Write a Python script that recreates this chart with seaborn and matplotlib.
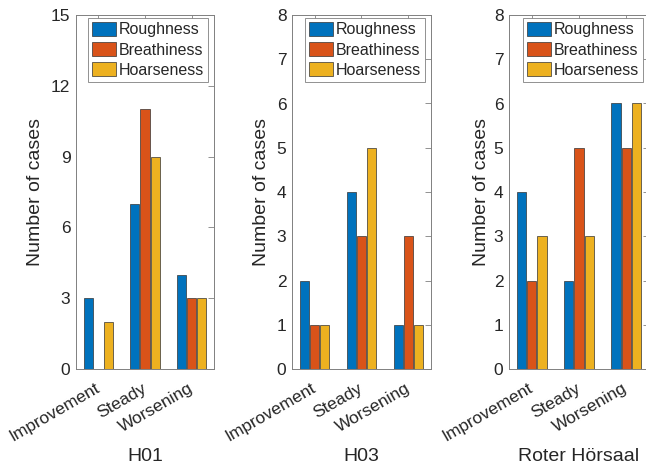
import numpy as np
import pandas as pd
import matplotlib
matplotlib.use('Agg')
import matplotlib.pyplot as plt
import matplotlib.transforms as mtransforms
import seaborn as sns

# data
phases = ['Improvement', 'Steady', 'Worsening']
measures = ['Roughness', 'Breathiness', 'Hoarseness']
rooms = ['H01', 'H03', 'Roter Hörsaal']

h01 = [[3, 0, 2], [7, 11, 9], [4, 3, 3]]
h03 = [[2, 1, 1], [4, 3, 5], [1, 3, 1]]
roter = [[4, 2, 3], [2, 5, 3], [6, 5, 6]]

ymax = [15, 8, 8]
ystep = [3, 1, 1]
colors = ['#0072BD', '#D95319', '#EDB120']

sns.set_style('white')
plt.rcParams['font.family'] = ['Liberation Sans', 'DejaVu Sans']
axcol = '#808080'
txtcol = '#262626'

fig = plt.figure(figsize=(6.46, 4.69), dpi=100)
W, H = 646, 469
# axes boxes in pixels: left, right
boxes = [(76, 214), (292, 431), (509, 649)]
top, bottom = 15, 369
ylab_x = [36, 262, 481]

for i, vals in enumerate([h01, h03, roter]):
    rows = []
    for p, phase in enumerate(phases):
        for m, meas in enumerate(measures):
            rows.append({'phase': phase, 'measure': meas, 'cases': vals[p][m]})
    df = pd.DataFrame(rows)

    l, r = boxes[i]
    ax = fig.add_axes([l / W, (H - bottom) / H, (r - l) / W, (bottom - top) / H])
    sns.barplot(data=df, x='phase', y='cases', hue='measure', order=phases,
                hue_order=measures, palette=colors, saturation=1, width=0.65,
                gap=0.1, edgecolor='#333333', linewidth=0.5, ax=ax)

    ax.set_xlim(-0.48, 2.48)
    ax.set_ylim(0, ymax[i])
    ax.set_yticks(np.arange(0, ymax[i] + 1, ystep[i]))
    ax.set_xticks(range(3))
    ax.set_xticklabels(phases, rotation=30, ha='right', va='center',
                       rotation_mode='anchor')
    shift = mtransforms.ScaledTranslation(3 / 100, 0, fig.dpi_scale_trans)
    for lab in ax.get_xticklabels():
        lab.set_transform(lab.get_transform() + shift)

    for s in ax.spines.values():
        s.set_visible(True)
        s.set_color(axcol)
        s.set_linewidth(0.7)
    ax.tick_params(direction='in', top=True, right=True, length=4, width=0.6,
                   color=axcol, labelcolor=txtcol, labelsize=12.5)
    ax.tick_params(axis='y', pad=4)
    ax.tick_params(axis='x', pad=13)

    ax.set_xlabel(rooms[i], fontsize=14, color=txtcol, va='center')
    ax.xaxis.set_label_coords(0.5, -(456 - bottom) / (bottom - top))
    ax.set_ylabel('Number of cases', fontsize=14, color=txtcol, va='center')
    ax.yaxis.set_label_coords(-(l - ylab_x[i]) / (r - l), 0.5)

    handles, labels = ax.get_legend_handles_labels()
    ax.legend(handles, labels, loc='upper right',
              bbox_to_anchor=(1 - 6 / (r - l), 1 - 3 / (bottom - top)),
              borderaxespad=0, fontsize=11.5, frameon=True, fancybox=False,
              framealpha=1, edgecolor=axcol, handlelength=1.5,
              handleheight=0.95, handletextpad=0.2, labelspacing=0.3,
              borderpad=0.25, labelcolor=txtcol)
    ax.get_legend().get_frame().set_linewidth(0.6)

fig.savefig('out.png', dpi=100)
